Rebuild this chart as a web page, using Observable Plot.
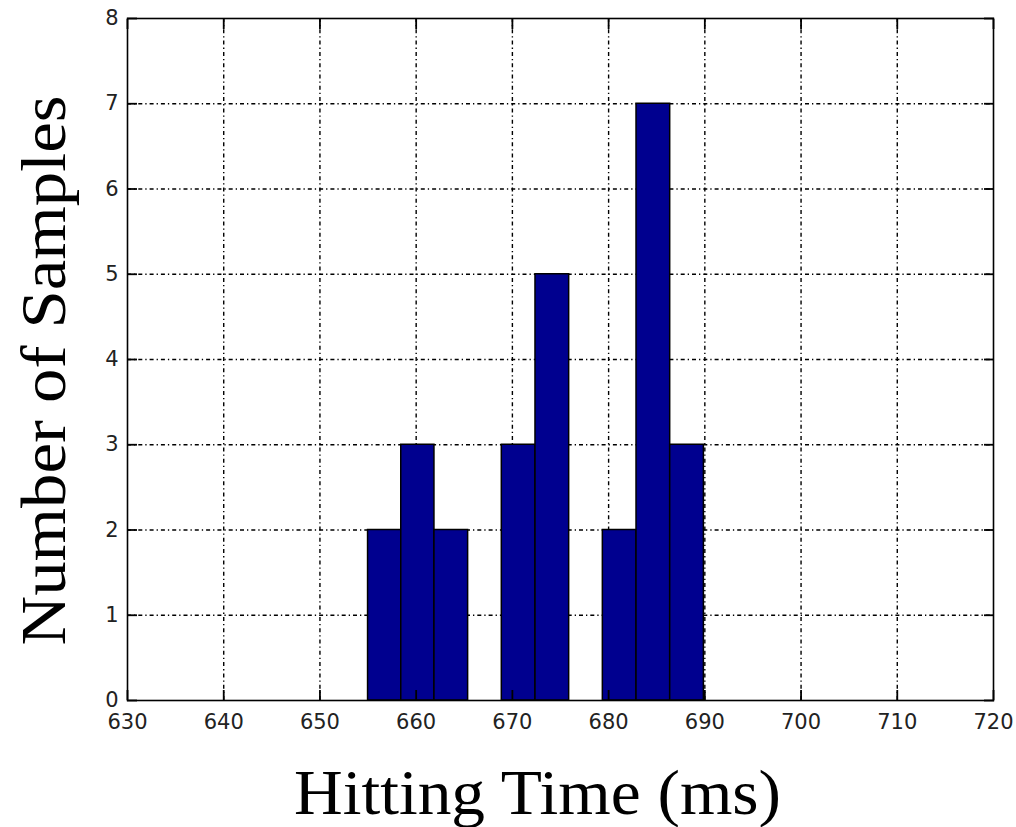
<!DOCTYPE html>
<html>
<head>
<meta charset="utf-8">
<script src="https://cdn.jsdelivr.net/npm/d3@7"></script>
<script src="https://cdn.jsdelivr.net/npm/@observablehq/plot@0.6"></script>
<style>
  html, body { margin: 0; padding: 0; background: #fff; }
  #chart svg { display: block; }
</style>
</head>
<body>
<div id="chart"></div>
<script>
// Histogram bin edges (ms) and the number of samples in each bin
const binEdges = [655, 658.45, 661.9, 665.4, 668.9, 672.4, 675.9, 679.4, 682.9, 686.4, 689.9];
const binCounts = [2, 3, 2, 0, 3, 5, 0, 2, 7, 3];

// Axis ticks
const xTicks = [630, 640, 650, 660, 670, 680, 690, 700, 710, 720];
const yTicks = [0, 1, 2, 3, 4, 5, 6, 7, 8];
const xGrid = [640, 650, 660, 670, 680, 690, 700, 710];
const yGrid = [1, 2, 3, 4, 5, 6, 7];

const xTitle = "Hitting Time (ms)";
const yTitle = "Number of Samples";

const bins = binCounts
  .map((count, i) => ({x1: binEdges[i], x2: binEdges[i + 1], count}))
  .filter(d => d.count > 0);

const dashDot = "4,3,1.3,3";
const tickFont = "DejaVu Sans, Liberation Sans, sans-serif";
const intFormat = d3.format("d");

const chart = Plot.plot({
  width: 1016,
  height: 827,
  marginLeft: 127,
  marginRight: 23,
  marginTop: 18,
  marginBottom: 127,
  style: {background: "#fff", color: "#000"},
  x: {domain: [630, 720], ticks: xTicks, label: null},
  y: {domain: [0, 8], ticks: yTicks, label: null},
  marks: [
    Plot.gridX(xGrid, {stroke: "#000", strokeOpacity: 1, strokeWidth: 1.4, strokeDasharray: dashDot}),
    Plot.gridY(yGrid, {stroke: "#000", strokeOpacity: 1, strokeWidth: 1.4, strokeDasharray: dashDot}),
    Plot.rectY(bins, {x1: "x1", x2: "x2", y: "count", fill: "#00008F", stroke: "#000", strokeWidth: 1.5}),
    // inward tick marks on all four sides
    Plot.axisX(xTicks, {anchor: "bottom", tickSize: -10, text: null, strokeWidth: 1.8}),
    Plot.axisX(xTicks, {anchor: "top", tickSize: -10, text: null, strokeWidth: 1.8}),
    Plot.axisY(yTicks, {anchor: "left", tickSize: -10, text: null, strokeWidth: 1.8}),
    Plot.axisY(yTicks, {anchor: "right", tickSize: -10, text: null, strokeWidth: 1.8}),
    // tick labels
    Plot.axisX(xTicks, {anchor: "bottom", tickSize: 0, tickPadding: 14, tickFormat: intFormat,
      fontSize: 21, fontFamily: tickFont, fill: "#222", label: null}),
    Plot.axisY(yTicks, {anchor: "left", tickSize: 0, tickPadding: 9, tickFormat: intFormat,
      fontSize: 21, fontFamily: tickFont, fill: "#222", label: null}),
    Plot.frame({stroke: "#000", strokeWidth: 1.6}),
    // axis titles
    Plot.text([xTitle], {frameAnchor: "bottom", text: d => d, dy: 93, dx: -23, lineAnchor: "middle", textAnchor: "middle",
      fontSize: 63, fontFamily: "Liberation Serif, serif", fill: "#000", className: "xtitle"}),
    Plot.text([yTitle], {frameAnchor: "left", text: d => d, dx: -83, dy: 11, rotate: -90, lineAnchor: "middle", textAnchor: "middle",
      fontSize: 63, fontFamily: "Liberation Serif, serif", fill: "#000", className: "ytitle"})
  ]
});

document.getElementById("chart").appendChild(chart);

// Stretch the serif titles to the wider set width of the original typesetting
d3.select(chart).selectAll(".xtitle text").attr("textLength", 487).attr("lengthAdjust", "spacingAndGlyphs");
d3.select(chart).selectAll(".ytitle text").attr("textLength", 550).attr("lengthAdjust", "spacingAndGlyphs");
</script>
</body>
</html>
